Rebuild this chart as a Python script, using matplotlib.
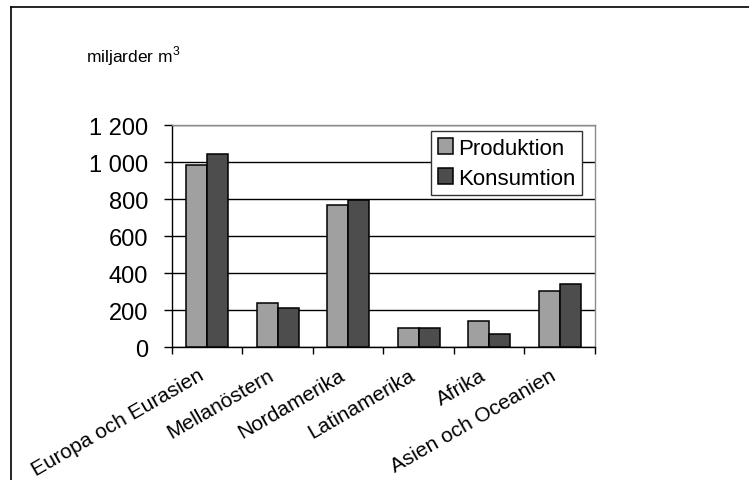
import matplotlib
matplotlib.use("Agg")
import matplotlib.pyplot as plt
import matplotlib.transforms as mtransforms
import numpy as np
from matplotlib.lines import Line2D

plt.rcParams['font.family'] = ['Liberation Sans', 'DejaVu Sans']
plt.rcParams['mathtext.fontset'] = 'custom'
plt.rcParams['mathtext.rm'] = 'Liberation Sans'

regions = ["Europa och Eurasien", "Mellanöstern", "Nordamerika",
           "Latinamerika", "Afrika", "Asien och Oceanien"]
produktion = [985, 238, 769, 103, 139, 304]
konsumtion = [1045, 211, 795, 103, 72, 339]
yticks = [0, 200, 400, 600, 800, 1000, 1200]
ytick_labels = ["0", "200", "400", "600", "800", "1 000", "1 200"]

fig = plt.figure(figsize=(7.49, 4.81), dpi=100)
ax = fig.add_axes([0.2296, 0.2765, 0.5648, 0.4615])

x = np.arange(len(regions))
w = 0.3
ax.bar(x - w / 2, produktion, w, color="#a0a0a0", edgecolor="black",
       linewidth=1.1, label="Produktion", zorder=3)
ax.bar(x + w / 2, konsumtion, w, color="#4d4d4d", edgecolor="black",
       linewidth=1.1, label="Konsumtion", zorder=3)

ax.set_xlim(-0.5, len(regions) - 0.5)
ax.set_ylim(0, 1200)
ax.set_yticks(yticks)
ax.set_yticklabels(ytick_labels, fontsize=17)
ax.yaxis.grid(True, color="black", linewidth=1.0, zorder=0)
ax.set_axisbelow(True)

# category ticks sit between the groups, labels at the group centres
ax.set_xticks(np.arange(-0.5, len(regions), 1.0))
ax.set_xticklabels([])
ax.set_xticks(x, minor=True)
ax.set_xticklabels(regions, minor=True, rotation=30, ha="right",
                   va="top", rotation_mode="anchor", fontsize=15)
ax.tick_params(axis="x", which="minor", length=0, pad=13)
ax.tick_params(axis="x", which="major", length=5, width=1, direction="out")
ax.tick_params(axis="y", length=6, width=1, direction="out", pad=11)

shift = mtransforms.ScaledTranslation(-10 / 100, 0, fig.dpi_scale_trans)
for lbl in ax.get_xticklabels(minor=True):
    lbl.set_transform(lbl.get_transform() + shift)

for side in ("top", "right"):
    ax.spines[side].set_color("#8c8c8c")
    ax.spines[side].set_linewidth(1.0)
for side in ("left", "bottom"):
    ax.spines[side].set_color("black")
    ax.spines[side].set_linewidth(1.0)

leg = ax.legend(loc="upper right", bbox_to_anchor=(0.969, 0.973),
                borderaxespad=0, fancybox=False, framealpha=1,
                edgecolor="#333333", fontsize=16, handlelength=0.7,
                handleheight=0.7, handletextpad=0.2, labelspacing=0.4,
                borderpad=0.3)
leg.get_frame().set_linewidth(1.0)
leg.set_zorder(5)

fig.text(86 / 749, 1 - 62 / 481, "miljarder m$^{3}$", fontsize=12.5,
         ha="left", va="baseline")

# outer frame (left and top edges)
fig.add_artist(Line2D([11 / 749, 11 / 749], [0, 1 - 8 / 481],
                      transform=fig.transFigure, color="black", linewidth=1.2))
fig.add_artist(Line2D([11 / 749, 1], [1 - 8 / 481, 1 - 8 / 481],
                      transform=fig.transFigure, color="black", linewidth=1.2))

fig.savefig("out.png", dpi=100)
